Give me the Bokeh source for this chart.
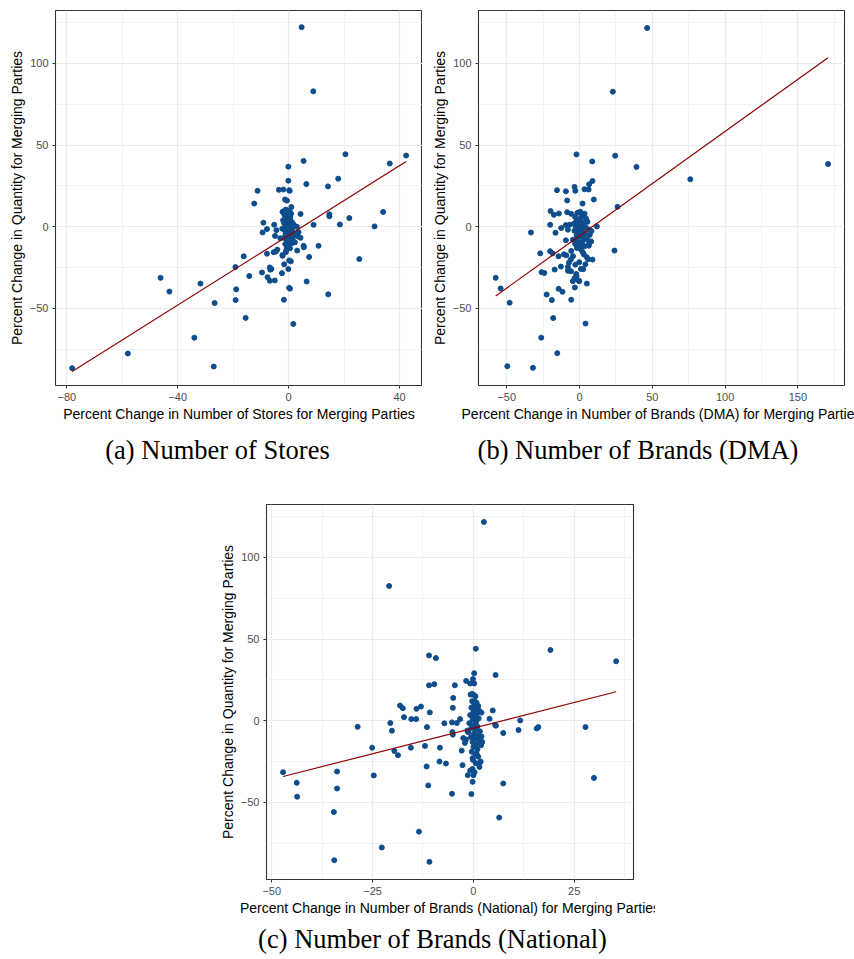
from bokeh.plotting import figure
from bokeh.layouts import column, row
from bokeh.models import FixedTicker, Range1d, Div, Spacer
from bokeh.embed import file_html
from bokeh.resources import INLINE

# ---------------- data ----------------
y_label = "Percent Change in Quantity for Merging Parties"

# Panel (a): Number of Stores
x_stores = [4.7, 8.9, 20.5, 42.4, 5.4, 36.5, -0.1, 17.9, -0.1, 6.4, 14.2, -11.2, -3.5, -1.9, 0.2, 0.4,
            -1.3, -0.6, -12.4, 1.0, 4.3, 14.7, 14.7, 34.1, -2.2, 21.9, -9.1, -5.2, 9.0, 18.5, 31.0,
            3.0, -7.8, -4.4, -9.4, 3.6, -4.9, 4.3, 5.4, 5.5, 10.8, 1.6, 3.1, -4.1, -5.4, -4.6,
            -7.8, -1.0, -2.2, -16.2, 7.4, 25.5, 0.2, 0.8, -1.6, -19.2, -6.8, -6.6, -6.2, -0.1,
            -9.6, -2.4, -14.2, -7.6, -6.8, -5.0, 6.5, -46.2, -31.8, -43.0, -18.9, 0.2, 0.5,
            -19.1, -1.7, -26.7, 14.3, -15.5, 1.7, -34.0, -58.0, -27.0, -78.1, 2.2, -2.2,
            -1.8, -1.0, 0.3, -0.4, 0.9, -1.5, -0.2, 0.6, -1.1, 0.2, -0.7, 1.1, -1.6, -0.3, 0.5,
            -1.0, 0.1, -0.6, 1.3, -1.4, 0.4, -0.2, 0.9, -1.1, -0.5, 0.3, 1.6, -1.7, 0.0, -0.8,
            0.7, -0.3, 1.2, -1.2, 0.2, -0.6, 0.5, 2.2, 2.6, -2.3, -2.0, 1.8, -0.9, 3.4, -3.0]
y_stores = [122.2, 82.9, 44.4, 43.6, 40.3, 38.7, 36.8, 29.4, 28.2, 26.1, 24.7, 22.0, 22.6, 22.8, 22.4, 22.0,
            16.7, 16.0, 14.2, 12.1, 7.8, 7.6, 6.4, 9.1, 9.1, 5.3, 2.5, 1.2, 1.2, 1.4, 0.2,
            0.0, -1.4, -2.1, -3.5, -3.3, -5.6, -6.8, -11.7, -12.6, -11.7, -9.1, -14.6, -14.0, -15.6, -15.2,
            -16.5, -15.6, -17.3, -18.1, -18.5, -19.8, -20.6, -21.2, -23.0, -24.7, -24.9, -26.3, -25.8, -25.9,
            -28.0, -28.4, -30.2, -30.9, -33.1, -32.9, -33.5, -31.3, -34.8, -39.7, -38.3, -37.4, -37.9,
            -44.9, -44.7, -46.7, -41.4, -55.8, -59.5, -67.9, -77.6, -85.6, -86.6, -9.5, -17.8,
            9.5, 10.5, 9.8, 8.5, 8.0, 7.2, 6.5, 5.8, 5.0, 4.2, 3.6, 3.0, 2.2, 1.8, 1.0,
            0.4, -0.3, -0.9, -1.5, -2.0, -2.6, -3.2, -3.8, -4.3, -5.0, -5.6, -6.2, -6.8, -7.4, -8.0,
            -8.7, -9.4, -10.0, -10.6, -11.5, -12.4, -13.2, -9.5, -4.5, -1.2, 4.0, 1.5, -14.5, -6.0, -7.0]
fit_stores = (-5.3, 1.067)   # intercept, slope of the fitted line

# Panel (b): Number of Brands (DMA)
x_dma = [46.4, 22.9, -2.1, 24.5, 8.7, 39.1, 170.7, 76.1, 8.9, 6.6, -3.4, -2.9, -15.5, -9.4, 3.4, 6.2,
         -8.5, 9.8, 2.1, 26.1, -19.9, -14.2, -17.6, -8.5, -5.7, -20.2, -12.6, -9.4, -6.9, 11.9,
         -33.4, -16.5, -8.0, 8.2, -9.4, 6.4, 24.0, -5.7, -20.2, -18.5, -27.0, 2.3, -10.7, -9.1,
         -14.4, 5.0, 5.9, 8.9, -7.3, -0.2, -2.9, -12.8, -8.0, 0.9, -17.1, -5.9, -26.1, -24.2,
         -2.3, -2.1, -3.4, -4.6, -0.2, 5.0, -57.6, -54.2, -14.4, -11.7, -3.2, -22.6, -19.0, -5.7,
         -48.0, -18.1, 4.1, -26.3, -15.3, -49.6, -32.0,
         -1.5, 0.5, 2.0, 3.5, -3.0, 1.0, 4.5, -2.0, 0.0, 2.8, 5.5, -4.0, -1.0, 1.5, 3.8, -2.5,
         0.3, 2.2, 6.0, -3.5, -0.8, 1.2, 4.0, 7.0, -2.0, 0.5, 2.8, 5.2, -4.5, -1.2, 1.8, 8.0,
         -3.0, 0.0, 3.5, 6.5, -1.8, 1.0, 2.5, -0.5, 4.0, -6.0, -8.0, -4.5, 3.0]
y_dma = [121.7, 82.7, 44.3, 43.5, 40.0, 36.6, 38.4, 29.1, 28.0, 26.0, 24.4, 22.0, 22.4, 21.7, 23.0, 22.8,
         16.1, 16.7, 14.2, 12.2, 9.6, 8.1, 7.3, 8.9, 7.9, 1.2, -0.8, 1.0, 1.2, 0.2,
         -3.5, -3.7, -1.8, -2.6, -8.3, -11.6, -14.6, -14.8, -15.0, -16.3, -16.3, -15.7, -16.9, -17.5,
         -18.1, -18.7, -19.9, -20.1, -22.0, -21.7, -23.2, -24.4, -24.6, -25.8, -26.2, -27.2, -27.8, -28.3,
         -28.9, -30.3, -31.5, -33.3, -33.3, -34.8, -31.3, -37.8, -38.0, -39.8, -37.2, -41.5, -44.9, -44.7,
         -46.5, -55.9, -59.3, -67.9, -77.4, -85.4, -86.4,
         8.5, 9.2, 7.5, 8.0, 6.0, 5.5, 5.0, 4.0, 3.2, 2.5, 3.0, 1.8, 1.0, 0.5, 0.0, -0.5,
         -1.2, -2.0, -1.5, -2.5, -3.0, -3.8, -4.5, -5.0, -5.5, -6.0, -7.0, -7.8, -8.0, -8.5, -9.5, -9.0,
         -10.5, -11.0, -12.0, -10.5, -13.0, -14.0, -26.0, -33.0, -23.0, -20.0, -27.0, -18.0, -17.0]
fit_dma = (-5.57, 0.639)

# Panel (c): Number of Brands (National)
x_nat = [2.6, -20.9, 0.6, 19.1, -11.0, -9.3, 35.4, 0.2, 5.5, -0.1, -1.8, -0.8, 0.2, -11.0, -9.7, -4.6,
         -0.7, -0.3, -5.0, 0.3, -18.2, -17.5, -13.0, -14.1, -10.8, -5.1, 4.8, -17.2, -15.4, -14.2,
         -3.3, 4.0, 11.6, -20.6, -7.2, -5.3, -4.1, -28.7, -11.5, 5.4, 5.6, 16.1, 15.7, 27.8, 11.2,
         -20.2, -5.2, -5.1, 7.4, 2.0, -2.5, -2.1, 1.9, -12.0, -25.1, -15.5, -8.3, -2.9, -19.6, -18.7,
         0.8, -0.2, -8.4, -6.8, 1.5, 1.5, -11.6, -2.7, -0.2, -1.4, 0.0, -24.7, 29.9, -47.2, -33.8,
         -43.8, -0.2, 7.4, -11.2, -33.8, -43.7, -5.3, -0.5, -34.6, 6.4, -13.5, -22.7, -34.5, -10.9,
         0.0, 0.5, -0.3, 0.8, 0.2, 1.2, -0.5, 0.6, 1.5, 0.0, 0.9, -0.8, 0.4, 1.3, -0.2, 0.7,
         -1.0, 0.2, 1.0, -0.5, 0.5, 1.6, -1.3, 0.1, 0.9, -0.6, 0.4, 1.4, -0.2, 0.7, 0.0, 1.0,
         -0.4, 0.5, 1.2, -0.1, 0.6, -0.8, 0.3, 1.8, -1.8, -1.5, 2.2, 2.0]
y_nat = [121.7, 82.5, 44.1, 43.3, 40.0, 38.4, 36.4, 29.1, 28.0, 25.5, 24.4, 22.8, 22.8, 21.7, 22.4, 21.7,
         16.0, 16.4, 14.0, 12.0, 9.3, 7.7, 8.7, 7.3, 5.1, 7.9, 6.3, 2.2, 1.0, 1.0,
         1.0, 1.2, 0.2, -1.4, -1.6, -1.0, -1.4, -3.7, -3.9, -2.6, -3.0, -3.9, -4.7, -3.9, -5.7,
         -6.1, -6.9, -8.5, -7.5, -9.6, -10.6, -13.6, -15.0, -15.4, -16.5, -16.5, -16.5, -18.3, -18.5, -21.1,
         -20.1, -23.0, -25.0, -26.2, -25.8, -28.3, -28.0, -27.2, -29.5, -33.3, -33.3, -33.5, -35.0, -31.5, -31.1,
         -38.0, -37.4, -38.4, -39.6, -41.5, -46.5, -44.7, -44.9, -55.9, -59.3, -67.9, -77.6, -85.4, -86.4,
         16.0, 15.0, 12.0, 11.0, 9.5, 9.0, 8.0, 7.0, 6.0, 5.5, 4.5, 3.5, 2.5, 1.5, 0.8, -0.5,
         -1.5, -2.5, -3.5, -4.5, -5.5, -6.5, -7.0, -8.0, -9.0, -10.0, -11.0, -12.0, -13.0, -14.5, -16.0, -17.5,
         -19.0, -20.5, -22.0, -24.0, -26.0, -30.5, -31.5, -25.0, -11.5, -6.0, -13.0, 5.0]
fit_nat = (-4.5, 0.628)

# ticks
y_ticks = [-50, 0, 50, 100]
y_tick_labels = ["\u221250", "0", "50", "100"]
y_minor = [-75, -25, 25, 75, 125]

x_ticks_a = [-80, -40, 0, 40]
x_tick_labels_a = ["\u221280", "\u221240", "0", "40"]
x_minor_a = [-60, -20, 20]

x_ticks_b = [-50, 0, 50, 100, 150]
x_tick_labels_b = ["\u221250", "0", "50", "100", "150"]
x_minor_b = [-25, 25, 75, 125, 175]

x_ticks_c = [-50, -25, 0, 25]
x_tick_labels_c = ["\u221250", "\u221225", "0", "25"]
x_minor_c = [-37.5, -12.5, 12.5, 37.5]

x_label_a = "Percent Change in Number of Stores for Merging Parties"
x_label_b = "Percent Change in Number of Brands (DMA) for Merging Parties"
x_label_c = "Percent Change in Number of Brands (National) for Merging Parties"

caption_a = "(a) Number of Stores"
caption_b = "(b) Number of Brands (DMA)"
caption_c = "(c) Number of Brands (National)"

POINT = "#0E4D8C"
LINE = "#8B0000"
Y_RANGE = (-97.2, 132.4)


def panel(xs, ys, fit, xr, xt, xtl, xm, xlabel, width, height, bl, br, bt, bb):
    p = figure(width=width, height=height, x_range=Range1d(*xr), y_range=Range1d(*Y_RANGE),
               output_backend="svg", toolbar_location=None,
               min_border_left=bl, min_border_right=br, min_border_top=bt, min_border_bottom=bb,
               background_fill_color="white", border_fill_color="white")
    p.outline_line_color = "#333333"
    p.outline_line_width = 1.1
    p.xaxis.ticker = FixedTicker(ticks=xt, minor_ticks=xm)
    p.yaxis.ticker = FixedTicker(ticks=y_ticks, minor_ticks=y_minor)
    p.xaxis.major_label_overrides = {t: l for t, l in zip(xt, xtl)}
    p.yaxis.major_label_overrides = {t: l for t, l in zip(y_ticks, y_tick_labels)}
    p.xaxis.axis_label = xlabel
    p.yaxis.axis_label = y_label
    for ax in (p.xaxis, p.yaxis):
        ax.axis_line_color = None
        ax.major_tick_line_color = "#333333"
        ax.major_tick_out = 3
        ax.major_tick_in = 0
        ax.minor_tick_line_color = None
        ax.major_label_text_color = "#4D4D4D"
        ax.major_label_text_font = "Liberation Sans"
        ax.major_label_text_font_size = "11px"
        ax.major_label_standoff = 3
        ax.axis_label_text_font = "Liberation Sans"
        ax.axis_label_text_font_size = "14px"
        ax.axis_label_text_font_style = "normal"
        ax.axis_label_text_color = "black"
        ax.axis_label_standoff = 2
    for g in (p.xgrid, p.ygrid):
        g.grid_line_color = "#EBEBEB"
        g.grid_line_width = 1.2
        g.minor_grid_line_color = "#EBEBEB"
        g.minor_grid_line_width = 0.6
    p.scatter(xs, ys, size=5, color=POINT, line_color=POINT)
    x0, x1 = min(xs), max(xs)
    b0, b1 = fit
    p.line([x0, x1], [b0 + b1 * x0, b0 + b1 * x1], color=LINE, line_width=1.2)
    return p


pa = panel(x_stores, y_stores, fit_stores, (-84.1, 48.3), x_ticks_a, x_tick_labels_a, x_minor_a,
           x_label_a, 422, 424, 55, 0, 10, 38)
pb = panel(x_dma, y_dma, fit_dma, (-69.4, 182.0), x_ticks_b, x_tick_labels_b, x_minor_b,
           x_label_b, 432, 424, 56, 10, 10, 38)
pc = panel(x_nat, y_nat, fit_nat, (-51.3, 39.7), x_ticks_c, x_tick_labels_c, x_minor_c,
           x_label_c, 445, 438, 56, 22, 24, 39)

cap_style = {"font-family": "Liberation Serif", "font-size": "26.5px", "color": "black",
             "text-align": "center", "box-sizing": "border-box", "line-height": "30px",
             "padding-top": "11px", "overflow": "hidden"}
div_a = Div(text=caption_a, width=422, height=56, margin=0,
            styles=dict(cap_style, **{"padding-left": "13px"}))
div_b = Div(text=caption_b, width=432, height=56, margin=0, styles=cap_style)
div_c = Div(text=caption_c, width=445, height=41, margin=0,
            styles=dict(cap_style, **{"padding-top": "6px"}))

layout = column(
    row(pa, pb),
    row(div_a, div_b),
    row(Spacer(width=210, height=438, margin=0), pc),
    row(Spacer(width=210, height=41, margin=0), div_c),
)

open("out.html", "w").write(file_html(layout, INLINE))
